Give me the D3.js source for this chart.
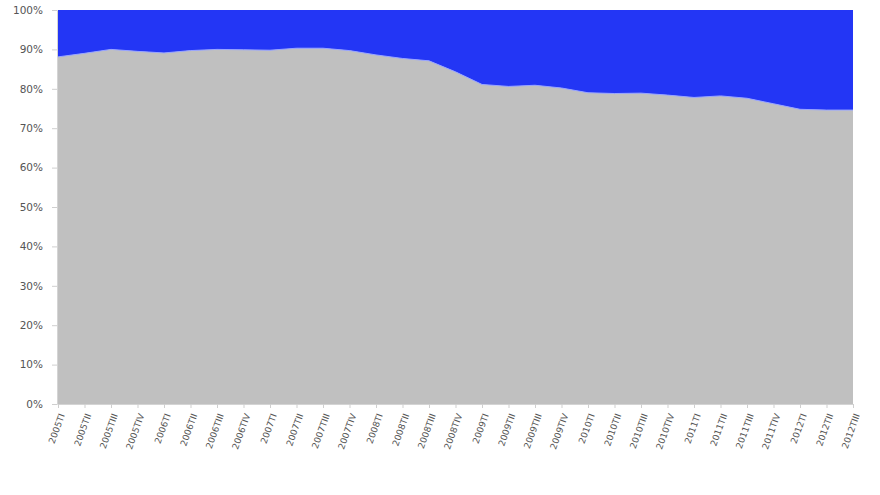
<!DOCTYPE html>
<html>
<head>
<meta charset="utf-8">
<script src="https://cdn.jsdelivr.net/npm/d3@7"></script>
<style>
  body { margin: 0; background: #fff; }
  #chart text { font-family: "DejaVu Sans", Verdana, sans-serif; fill: #555; }
</style>
</head>
<body>
<div id="chart"></div>
<script>
// trimestres
const trimestres = [
  "2005TI","2005TII","2005TIII","2005TIV",
  "2006TI","2006TII","2006TIII","2006TIV",
  "2007TI","2007TII","2007TIII","2007TIV",
  "2008TI","2008TII","2008TIII","2008TIV",
  "2009TI","2009TII","2009TIII","2009TIV",
  "2010TI","2010TII","2010TIII","2010TIV",
  "2011TI","2011TII","2011TIII","2011TIV",
  "2012TI","2012TII","2012TIII"
]

// parte gris (en %), el resto hasta 100 es azul
const serieGris = [
  88.1, 89.0, 90.0, 89.5,
  89.1, 89.7, 90.0, 89.9,
  89.8, 90.3, 90.3, 89.7,
  88.6, 87.7, 87.1, 84.3,
  81.1, 80.6, 80.9, 80.2,
  79.0, 78.8, 78.9, 78.4,
  77.8, 78.2, 77.6, 76.2,
  74.8, 74.6, 74.6
]
const serieAzul = serieGris.map(v => 100 - v)

const ticksY = [0, 10, 20, 30, 40, 50, 60, 70, 80, 90, 100]

const ancho = 880
const alto = 495
const margen = { izquierdo: 58, derecho: 27, superior: 10, inferior: 91 }

const svg = d3.select("#chart").append("svg").attr("width", ancho).attr("height", alto)

const x = d3.scalePoint().domain(trimestres).range([margen.izquierdo, ancho - margen.derecho])
const y = d3.scaleLinear().domain([0, 100]).range([alto - margen.inferior, margen.superior])

const datos = trimestres.map((t, i) => ({ t: t, gris: serieGris[i], azul: serieAzul[i] }))

// area gris (abajo)
svg.append("path").datum(datos)
  .attr("fill", "#c0c0c0")
  .attr("d", d3.area().x(d => x(d.t)).y0(y(0)).y1(d => y(d.gris)))

// area azul (arriba)
svg.append("path").datum(datos)
  .attr("fill", "#2336f5")
  .attr("d", d3.area().x(d => x(d.t)).y0(d => y(d.gris)).y1(d => y(d.gris + d.azul)))

// borde claro entre las dos
svg.append("path").datum(datos)
  .attr("fill", "none").attr("stroke", "#9aa6ff").attr("stroke-width", 1)
  .attr("d", d3.line().x(d => x(d.t)).y(d => y(d.gris)))

// eje Y
const ejeY = d3.axisLeft(y).tickValues(ticksY).tickFormat(d => d + "%").tickSize(5).tickPadding(9)
const gY = svg.append("g").attr("transform", `translate(${margen.izquierdo - 1},0)`).call(ejeY)
gY.select(".domain").attr("stroke", "#d4d4d4")
gY.selectAll(".tick line").attr("stroke", "#cfcfcf")
gY.selectAll("text").style("font-size", "10.5px")

// eje X
const ejeX = d3.axisBottom(x).tickSize(4).tickPadding(3)
const gX = svg.append("g").attr("transform", `translate(0,${alto - margen.inferior})`).call(ejeX)
gX.select(".domain").attr("stroke", "#d4d4d4")
gX.selectAll(".tick line").attr("stroke", "#cfcfcf")
gX.selectAll("text")
  .style("font-size", "9px")
  .attr("text-anchor", "end")
  .attr("dx", "-0.2em").attr("dy", "0.3em")
  .attr("transform", "translate(-2,6) rotate(-70)")
</script>
</body>
</html>
